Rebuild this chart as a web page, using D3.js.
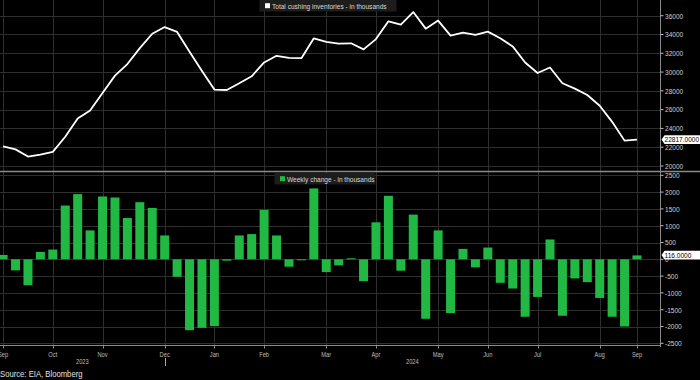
<!DOCTYPE html>
<html><head><meta charset="utf-8">
<script src="https://cdn.jsdelivr.net/npm/d3@7"></script>
<style>html,body{margin:0;padding:0;background:#000;overflow:hidden}svg{display:block}</style>
</head><body>
<svg id="chart" width="700" height="380"></svg>
<script>
// Weekly data, Sep 2023 – Sep 2024 (52 weeks)
const inventory = [22101,21771,21001,21221,21511,23111,25051,25911,27781,29621,30851,32551,34081,34791,34271,32161,30121,28131,28091,28801,29551,31021,31731,31511,31481,33591,33211,33031,33061,32411,33511,35401,35061,36391,34621,35481,33881,34191,33951,34301,33601,32731,31021,29901,30491,28811,28241,27561,26411,24701,22701,22817];
const weeklyChange = [130,-330,-770,220,290,1600,1940,860,1870,1840,1230,1700,1530,710,-520,-2110,-2040,-1990,-40,710,750,1470,710,-220,-30,2110,-380,-180,30,-650,1100,1890,-340,1330,-1770,860,-1600,310,-240,350,-700,-870,-1710,-1120,590,-1680,-570,-680,-1150,-1710,-2000,116];
const monthTicks = [
  {label:"Sep",week:0},{label:"Oct",week:4},{label:"Nov",week:8},{label:"Dec",week:13},
  {label:"Jan",week:17},{label:"Feb",week:21},{label:"Mar",week:26},{label:"Apr",week:30},
  {label:"May",week:35},{label:"Jun",week:39},{label:"Jul",week:43},{label:"Aug",week:48},{label:"Sep",week:51}];
const years = [{label:"2023",start:-0.25,end:13},{label:"2024",start:13,end:52.85}];
const invTicks = [20000,22000,24000,26000,28000,30000,32000,34000,36000];
const chgTicks = [-2500,-2000,-1500,-1000,-500,0,500,1000,1500,2000,2500];
const invLegend = "Total cushing inventories - in thousands";
const chgLegend = "Weekly change - in thousands";
const source = "Source: EIA, Bloomberg";

const FONT = '"Liberation Sans",Arial,sans-serif';
const SX = 0.82; // condensed look
const svg = d3.select("#chart");
svg.append("rect").attr("width",700).attr("height",380).attr("fill","#000");

const axisX = 660.5;
const x = d3.scaleLinear().domain([0, 51]).range([3.1, 637]);
const xs = d3.scaleLinear().domain([-0.25, 52.85]).range([0, 660]);
const yTop = d3.scaleLinear().domain([20000, 36000]).range([166, 15.7]);
const yBot = d3.scaleLinear().domain([-2500, 2500]).range([343.3, 175.3]);
const grid = "#2f2f2f";

function ctext(sel, fx, fy) {
  return sel.attr("transform", (d, i) => `translate(${fx(d, i)},${fy(d, i)}) scale(${SX},1)`)
    .attr("font-family", FONT).attr("dy", "0.35em");
}

// vertical gridlines
svg.append("g").selectAll("line").data(monthTicks).join("line")
  .attr("x1", d => Math.round(x(d.week)) + 0.5).attr("x2", d => Math.round(x(d.week)) + 0.5)
  .attr("y1", 0).attr("y2", 345).attr("stroke", grid).attr("stroke-width", 1);

// horizontal gridlines
svg.append("g").selectAll("line").data(invTicks).join("line")
  .attr("x1", 0).attr("x2", axisX).attr("y1", d => Math.round(yTop(d)) + 0.5).attr("y2", d => Math.round(yTop(d)) + 0.5)
  .attr("stroke", grid);
svg.append("g").selectAll("line").data(chgTicks).join("line")
  .attr("x1", 0).attr("x2", axisX).attr("y1", d => Math.round(yBot(d)) + 0.5).attr("y2", d => Math.round(yBot(d)) + 0.5)
  .attr("stroke", grid);

// bars
svg.append("g").selectAll("rect").data(weeklyChange).join("rect")
  .attr("x", (d, i) => x(i) - 4.5).attr("width", 9)
  .attr("y", d => yBot(Math.max(0, d))).attr("height", d => Math.abs(yBot(d) - yBot(0)))
  .attr("fill", "#21b843");

// line
svg.append("path").datum(inventory)
  .attr("d", d3.line().x((d, i) => x(i)).y(d => yTop(d)))
  .attr("fill", "none").attr("stroke", "#fff").attr("stroke-width", 1.8).attr("stroke-linejoin", "round");

// panel separator & bottom axis
svg.append("line").attr("x1", 0).attr("x2", 700).attr("y1", 171.5).attr("y2", 171.5).attr("stroke", "#8a8a8a").attr("stroke-width", 1.5);
svg.append("line").attr("x1", 0).attr("x2", axisX).attr("y1", 345.5).attr("y2", 345.5).attr("stroke", "#8a8a8a");
svg.append("line").attr("x1", axisX).attr("x2", axisX).attr("y1", 0).attr("y2", 347).attr("stroke", "#8a8a8a");

// right axes
function rightAxis(scale, ticks) {
  const g = svg.append("g");
  g.selectAll("line").data(ticks).join("line")
    .attr("x1", axisX).attr("x2", axisX + 3).attr("y1", d => scale(d)).attr("y2", d => scale(d))
    .attr("stroke", "#bbb");
  ctext(g.selectAll("text").data(ticks).join("text"), () => axisX + 4.5, d => scale(d))
    .attr("font-size", 8).attr("fill", "#cfcfcf").text(d => d);
}
rightAxis(yTop, invTicks);
rightAxis(yBot, chgTicks);

// last value tags
function tag(cy, txt) {
  const g = svg.append("g");
  g.append("path").attr("d", `M${axisX+1},${cy} L${axisX+4},${cy-4.4} L700,${cy-4.4} L700,${cy+4.4} L${axisX+4},${cy+4.4} Z`)
    .attr("fill", "#fff");
  ctext(g.append("text"), () => axisX + 4, () => cy)
    .attr("font-size", 8).attr("fill", "#000").text(txt);
}
tag(yTop(inventory[inventory.length - 1]), d3.format(".4f")(inventory[inventory.length - 1]));
tag(yBot(weeklyChange[weeklyChange.length - 1]) - 0.3, d3.format(".4f")(weeklyChange[weeklyChange.length - 1]));

// x axis ticks & labels
svg.append("g").selectAll("line").data(monthTicks).join("line")
  .attr("x1", d => Math.round(x(d.week)) + 0.5).attr("x2", d => Math.round(x(d.week)) + 0.5)
  .attr("y1", 345).attr("y2", 348.5).attr("stroke", "#8a8a8a");
ctext(svg.append("g").selectAll("text").data(monthTicks).join("text"), d => x(d.week), () => 354.5)
  .attr("text-anchor", "middle").attr("font-size", 7).attr("fill", "#bdbdbd").text(d => d.label);
ctext(svg.append("g").selectAll("text").data(years).join("text"), d => (xs(d.start) + xs(d.end)) / 2, () => 362)
  .attr("text-anchor", "middle").attr("font-size", 7).attr("fill", "#bdbdbd").text(d => d.label);
svg.append("line").attr("x1", Math.round(x(years[1].start)) + 0.5).attr("x2", Math.round(x(years[1].start)) + 0.5)
  .attr("y1", 358).attr("y2", 366).attr("stroke", "#aaa");

// legends
function legend(x0, y0, w, color, txt) {
  const g = svg.append("g");
  g.append("rect").attr("x", x0).attr("y", y0).attr("width", w).attr("height", 11.5).attr("fill", "#1d1d1d");
  g.append("rect").attr("x", x0 + 5.5).attr("y", y0 + 3.2).attr("width", 5).attr("height", 5).attr("fill", color);
  ctext(g.append("text"), () => x0 + 12.5, () => y0 + 5.8)
    .attr("font-size", 8).attr("fill", "#d8d8d8").text(txt);
}
legend(259.5, 0, 137, "#fff", invLegend);
legend(274.5, 173, 101, "#21b843", chgLegend);

ctext(svg.append("text"), () => 0, () => 374)
  .attr("font-size", 9.4).attr("fill", "#e0e0e0").text(source);
</script>
</body></html>
